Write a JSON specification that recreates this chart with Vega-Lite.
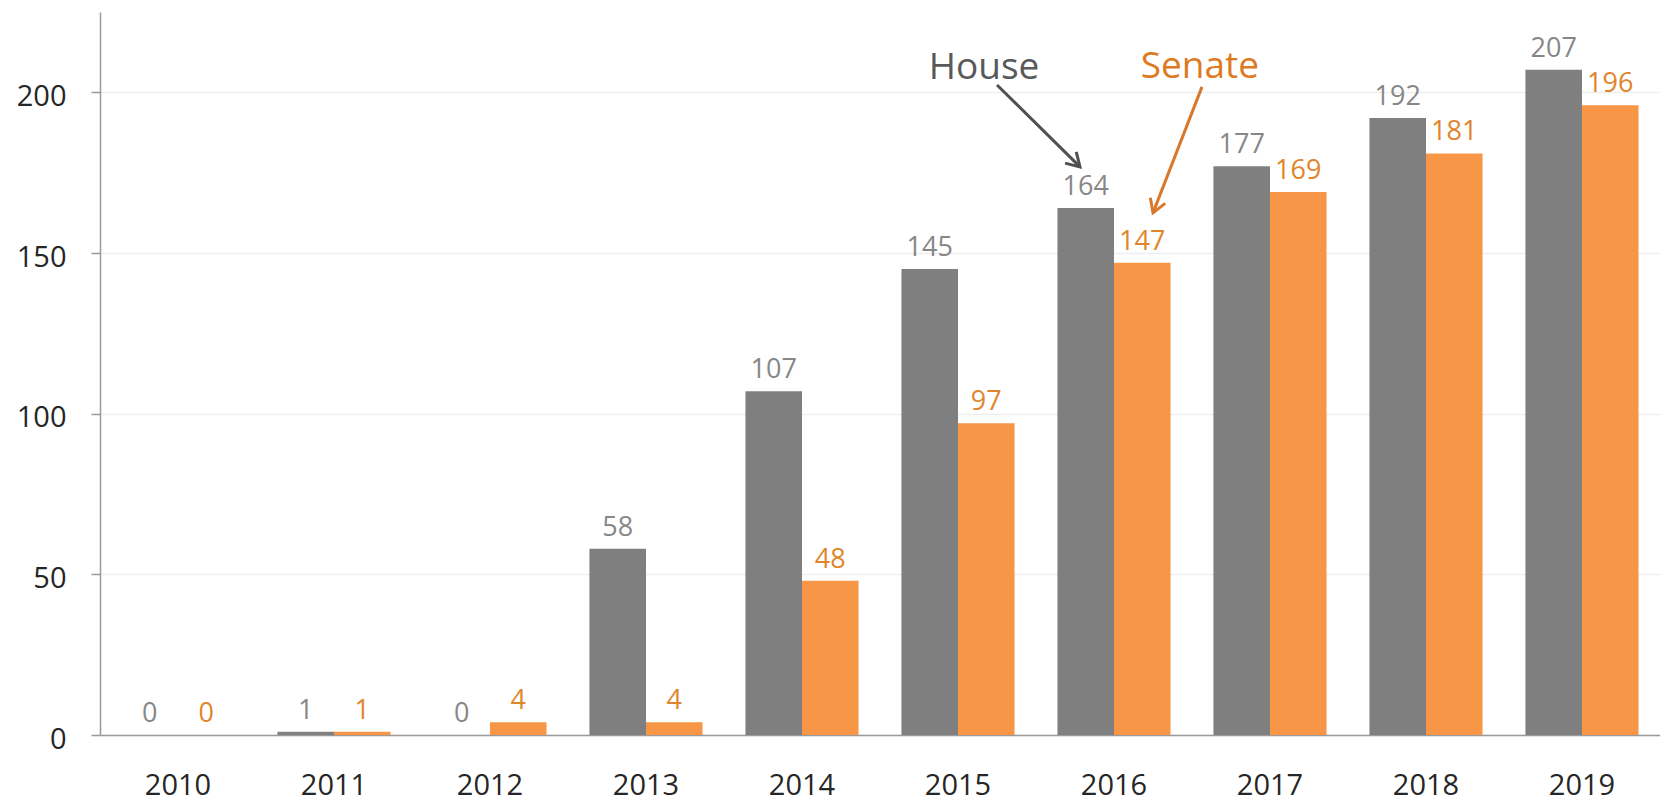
{
  "$schema": "https://vega.github.io/schema/vega-lite/v6.json",
  "width": 1560,
  "height": 723,
  "autosize": "none",
  "padding": {"left": 100, "top": 12, "right": 0, "bottom": 66},
  "background": "white",
  "config": {
    "view": {"stroke": null},
    "font": "Open Sans",
    "axisX": {"domainColor": "#9A9A9A", "domainWidth": 1.5, "ticks": false, "labelFontSize": 29, "labelColor": "#262626", "labelPadding": 36, "labelAngle": 0, "grid": false, "title": null},
    "axisY": {"domainColor": "#9A9A9A", "domainWidth": 1.5, "tickColor": "#9A9A9A", "tickSize": 9, "tickWidth": 1.5, "labelFontSize": 29, "labelColor": "#262626", "labelPadding": 25, "labelOffset": 4, "gridColor": "#EEEEEE", "gridWidth": 1.5, "title": null}
  },
  "datasets": {
    "bars": [
      {"year": "2010", "chamber": "House", "value": 0},
      {"year": "2010", "chamber": "Senate", "value": 0},
      {"year": "2011", "chamber": "House", "value": 1},
      {"year": "2011", "chamber": "Senate", "value": 1},
      {"year": "2012", "chamber": "House", "value": 0},
      {"year": "2012", "chamber": "Senate", "value": 4},
      {"year": "2013", "chamber": "House", "value": 58},
      {"year": "2013", "chamber": "Senate", "value": 4},
      {"year": "2014", "chamber": "House", "value": 107},
      {"year": "2014", "chamber": "Senate", "value": 48},
      {"year": "2015", "chamber": "House", "value": 145},
      {"year": "2015", "chamber": "Senate", "value": 97},
      {"year": "2016", "chamber": "House", "value": 164},
      {"year": "2016", "chamber": "Senate", "value": 147},
      {"year": "2017", "chamber": "House", "value": 177},
      {"year": "2017", "chamber": "Senate", "value": 169},
      {"year": "2018", "chamber": "House", "value": 192},
      {"year": "2018", "chamber": "Senate", "value": 181},
      {"year": "2019", "chamber": "House", "value": 207},
      {"year": "2019", "chamber": "Senate", "value": 196}
    ]
  },
  "layer": [
    {
      "data": {"name": "bars"},
      "encoding": {
        "x": {"field": "year", "type": "nominal", "sort": null, "scale": {"paddingInner": 0.275, "paddingOuter": 0.1375}, "axis": {}},
        "xOffset": {"field": "chamber", "type": "nominal", "sort": ["House", "Senate"], "scale": {"paddingInner": 0, "paddingOuter": 0}},
        "y": {"field": "value", "type": "quantitative", "scale": {"domain": [0, 225], "nice": false}, "axis": {"values": [0, 50, 100, 150, 200], "title": null}}
      },
      "layer": [
        {
          "mark": {"type": "bar"},
          "encoding": {
            "color": {"field": "chamber", "type": "nominal", "scale": {"domain": ["House", "Senate"], "range": ["#7F7F7F", "#F79646"]}, "legend": null}
          }
        },
        {
          "mark": {"type": "text", "fontSize": 27, "baseline": "alphabetic", "dy": -13, "align": "center"},
          "encoding": {
            "text": {"field": "value", "type": "quantitative"},
            "color": {"field": "chamber", "type": "nominal", "scale": {"domain": ["House", "Senate"], "range": ["#878787", "#E0852C"]}, "legend": null}
          }
        }
      ],
      "resolve": {"scale": {"color": "independent"}}
    },
    {
      "data": {"values": [{"label": "House", "xi": 5.667, "v": 204}]},
      "mark": {"type": "text", "fontSize": 37, "baseline": "alphabetic", "align": "center", "color": "#595959"},
      "encoding": {
        "x": {"field": "xi", "type": "quantitative", "scale": {"domain": [0, 10], "nice": false}, "axis": null},
        "y": {"field": "v", "type": "quantitative", "title": null},
        "text": {"field": "label"}
      }
    },
    {
      "data": {"values": [{"label": "Senate", "xi": 7.05, "v": 204.5}]},
      "mark": {"type": "text", "fontSize": 37, "baseline": "alphabetic", "align": "center", "color": "#DD7A22"},
      "encoding": {
        "x": {"field": "xi", "type": "quantitative", "scale": {"domain": [0, 10], "nice": false}, "axis": null},
        "y": {"field": "v", "type": "quantitative", "title": null},
        "text": {"field": "label"}
      }
    },
    {
      "data": {"values": [{"xi": 5.75, "v": 202.3, "xi2": 6.282, "v2": 176.8}]},
      "layer": [
        {
          "mark": {"type": "rule", "color": "#505050", "strokeWidth": 3},
          "encoding": {
            "x": {"field": "xi", "type": "quantitative", "scale": {"domain": [0, 10], "nice": false}, "axis": null},
            "y": {"field": "v", "type": "quantitative", "title": null},
            "x2": {"field": "xi2"},
            "y2": {"field": "v2"}
          }
        },
        {
          "mark": {"type": "point", "shape": "M -0.6 1 L 0 0 L 0.6 1", "filled": false, "color": "#505050", "strokeWidth": 3, "opacity": 1, "size": 700, "angle": 135},
          "encoding": {
            "x": {"field": "xi2", "type": "quantitative", "scale": {"domain": [0, 10], "nice": false}, "axis": null},
            "y": {"field": "v2", "type": "quantitative", "title": null}
          }
        }
      ]
    },
    {
      "data": {"values": [{"xi": 7.064, "v": 201.7, "xi2": 6.75, "v2": 162.5}]},
      "layer": [
        {
          "mark": {"type": "rule", "color": "#D9782A", "strokeWidth": 3},
          "encoding": {
            "x": {"field": "xi", "type": "quantitative", "scale": {"domain": [0, 10], "nice": false}, "axis": null},
            "y": {"field": "v", "type": "quantitative", "title": null},
            "x2": {"field": "xi2"},
            "y2": {"field": "v2"}
          }
        },
        {
          "mark": {"type": "point", "shape": "M -0.6 1 L 0 0 L 0.6 1", "filled": false, "color": "#D9782A", "strokeWidth": 3, "opacity": 1, "size": 700, "angle": 201},
          "encoding": {
            "x": {"field": "xi2", "type": "quantitative", "scale": {"domain": [0, 10], "nice": false}, "axis": null},
            "y": {"field": "v2", "type": "quantitative", "title": null}
          }
        }
      ]
    }
  ],
  "resolve": {"scale": {"x": "independent"}}
}
